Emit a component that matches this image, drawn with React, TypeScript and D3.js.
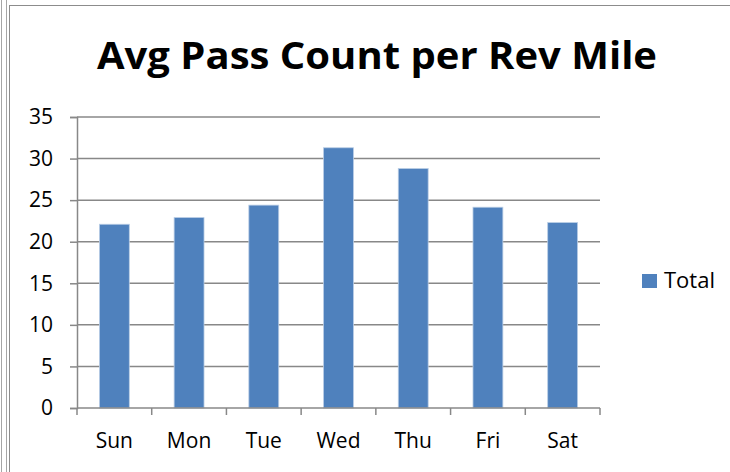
import React, { useEffect, useRef } from 'react';
import * as d3 from 'd3';

const days = ['Sun', 'Mon', 'Tue', 'Wed', 'Thu', 'Fri', 'Sat'];
const totals = [22.1, 22.9, 24.4, 31.3, 28.8, 24.15, 22.3];
const yTicks = [0, 5, 10, 15, 20, 25, 30, 35];
const title = 'Avg Pass Count per Rev Mile';
const seriesName = 'Total';

const App = () => {
    const svgRef = useRef<SVGSVGElement>(null);

    useEffect(() => {
        const svg = d3.select(svgRef.current);
        svg.selectAll('*').remove();

        const font = "'Open Sans', sans-serif";
        const left = 77, right = 600, top = 117, bottom = 408;

        // outer frame lines
        svg.append('line').attr('x1', 1.5).attr('x2', 1.5).attr('y1', 0).attr('y2', 472).attr('stroke', '#a6a6a6');
        svg.append('line').attr('x1', 6.5).attr('x2', 6.5).attr('y1', 0).attr('y2', 472).attr('stroke', '#a6a6a6');
        svg.append('line').attr('x1', 9.5).attr('x2', 9.5).attr('y1', 5).attr('y2', 472).attr('stroke', '#8c8c8c');
        svg.append('line').attr('x1', 9.5).attr('x2', 730).attr('y1', 5.5).attr('y2', 5.5).attr('stroke', '#8c8c8c');

        const x = d3.scaleBand().domain(days).range([left, right]).padding(0);
        const y = d3.scaleLinear().domain([0, 35]).range([bottom, top]);

        // gridlines
        svg.append('g').selectAll('line').data(yTicks.filter(t => t > 0)).enter().append('line')
            .attr('x1', left).attr('x2', right)
            .attr('y1', d => y(d)).attr('y2', d => y(d))
            .attr('stroke', '#888888').attr('stroke-width', 1.5);

        // y axis
        const yAxis = svg.append('g').attr('transform', `translate(${left},0)`)
            .call(d3.axisLeft(y).tickValues(yTicks).tickSize(7).tickPadding(17));
        yAxis.select('.domain').attr('stroke', '#888888').attr('stroke-width', 1.5);
        yAxis.selectAll('line').attr('stroke', '#888888').attr('stroke-width', 1.5);
        yAxis.selectAll('text').attr('font-family', font).attr('font-size', 21).attr('fill', '#000');

        // bars
        const bw = x.bandwidth();
        svg.append('g').selectAll('rect').data(totals).enter().append('rect')
            .attr('x', (d, i) => (x(days[i]) as number) + bw * 0.3)
            .attr('width', bw * 0.4)
            .attr('y', d => y(d))
            .attr('height', d => y(0) - y(d))
            .attr('fill', '#4f81bd')
            .attr('stroke', '#b9cde5').attr('stroke-width', 0.8);

        // x axis
        svg.append('line').attr('x1', left).attr('x2', right).attr('y1', bottom).attr('y2', bottom)
            .attr('stroke', '#888888').attr('stroke-width', 1.5);
        const bounds = [...days.map(d => x(d) as number), right];
        svg.append('g').selectAll('line').data(bounds).enter().append('line')
            .attr('x1', d => d).attr('x2', d => d).attr('y1', bottom).attr('y2', bottom + 7)
            .attr('stroke', '#888888').attr('stroke-width', 1.5);
        svg.append('g').selectAll('text').data(days).enter().append('text')
            .attr('x', d => (x(d) as number) + bw / 2).attr('y', 448)
            .attr('text-anchor', 'middle').attr('font-family', font).attr('font-size', 21)
            .text(d => d);

        // title
        svg.append('text').attr('x', 377).attr('y', 69).attr('text-anchor', 'middle')
            .attr('font-family', font).attr('font-weight', 'bold').attr('font-size', 37)
            .attr('textLength', 560).attr('lengthAdjust', 'spacingAndGlyphs')
            .text(title);

        // legend
        svg.append('rect').attr('x', 642).attr('y', 274).attr('width', 15).attr('height', 14).attr('fill', '#4f81bd');
        svg.append('text').attr('x', 664).attr('y', 288).attr('font-family', font).attr('font-size', 22).text(seriesName);
    }, []);

    return <svg ref={svgRef} width={730} height={472} style={{ position: 'absolute', left: 0, top: 0, background: '#fff' }}></svg>;
};

export default App;
